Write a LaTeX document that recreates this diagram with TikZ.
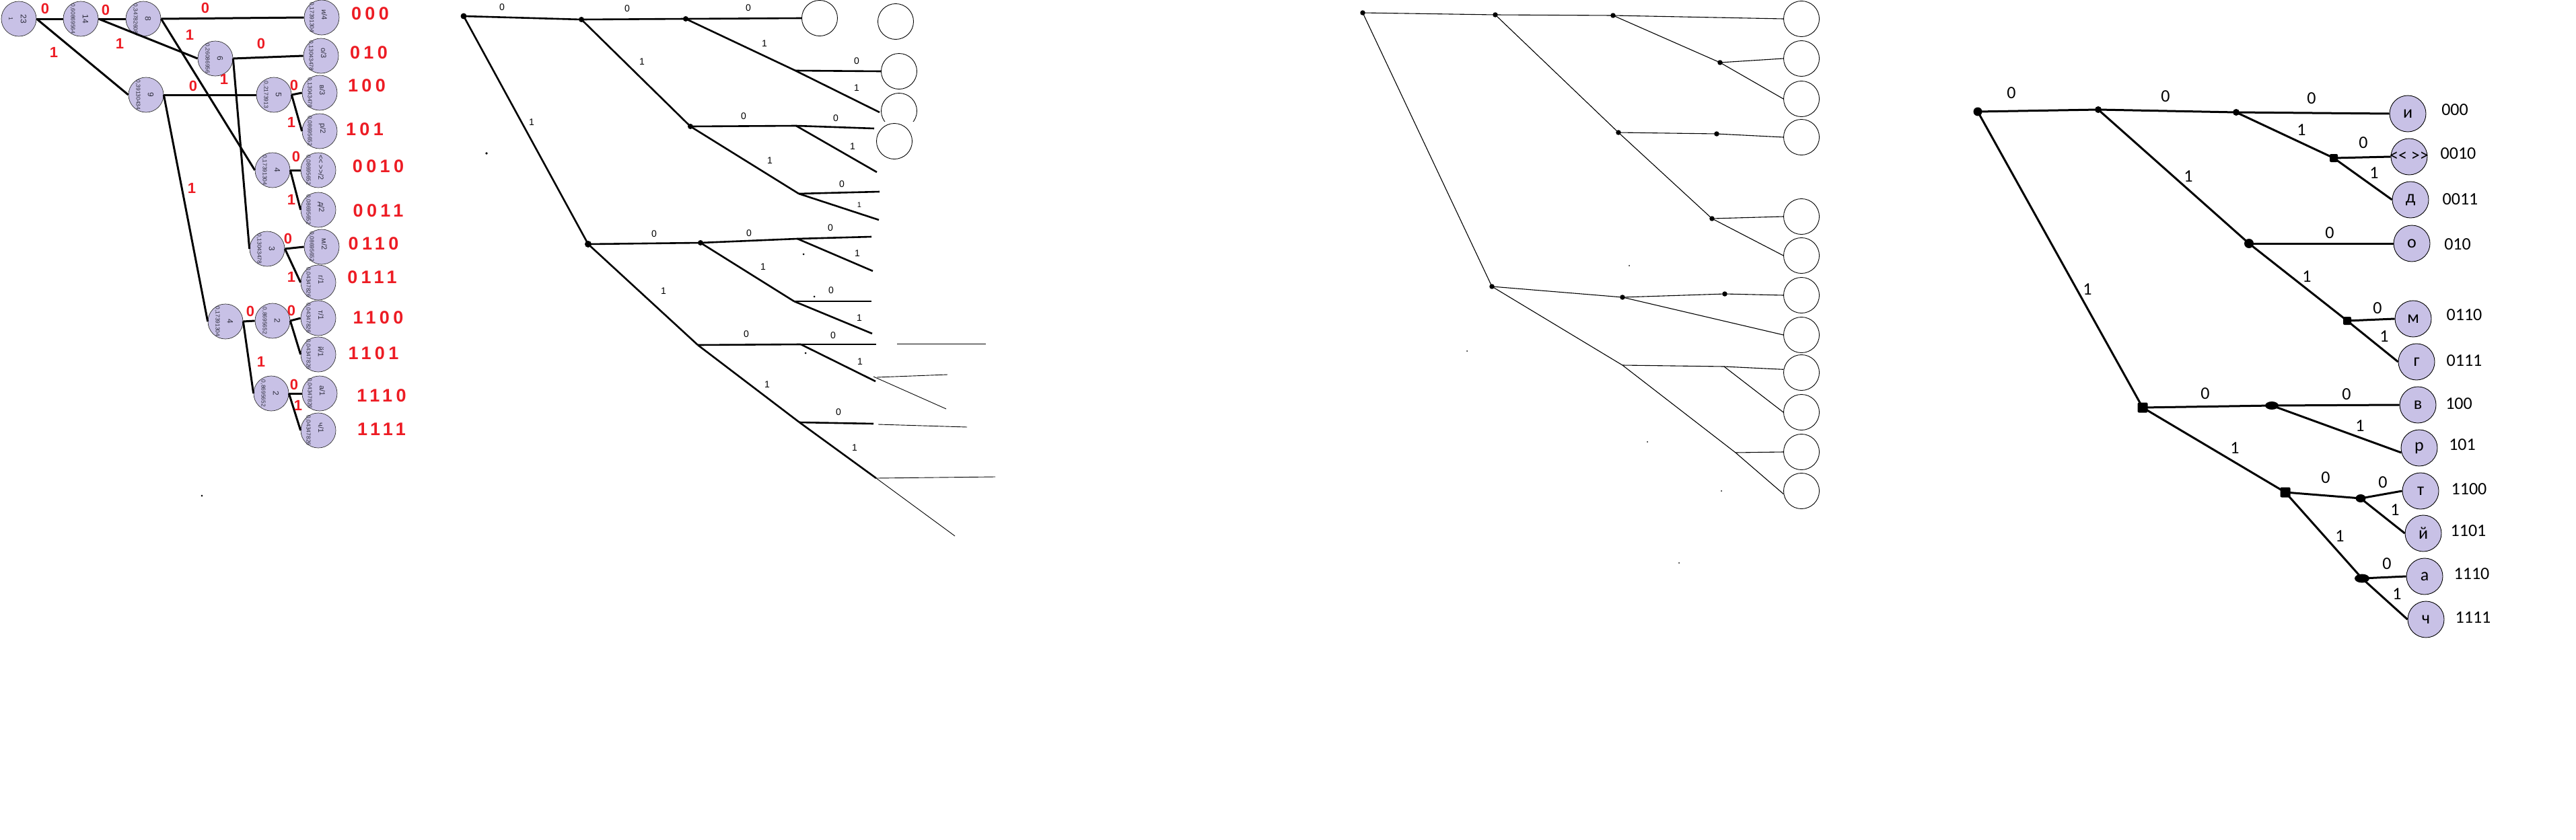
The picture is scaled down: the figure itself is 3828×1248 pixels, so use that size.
\documentclass[tikz,border=0pt]{standalone}
\usepackage{fontspec}
\setmainfont{Liberation Sans}
\newfontfamily\cali{Carlito}
\usetikzlibrary{calc,shapes.geometric}
\definecolor{lav}{RGB}{200,193,230}
\definecolor{hred}{RGB}{237,28,36}
\definecolor{ink}{RGB}{45,45,60}
\newcommand\hufI[5]{%
  \node[t1c] (#1) at (#2,#3) {};
  \node[t1n] (#1n) at ($(#1)+(7,0)$) {#4};
  \node[t1d] (#1d) at ($(#1)+(-12,0)$) {#5};}
\newcommand\hufL[5]{%
  \node[t1c] (#1) at (#2,#3) {};
  \node[t1n,font=\fontsize{11}{11}\selectfont] (#1n) at ($(#1)+(4,-4)$) {#4};
  \node[t1d] (#1d) at ($(#1)+(-15,0)$) {#5};}
\begin{document}
\begin{tikzpicture}[x=1pt,y=-1pt,
  t1c/.style={circle,draw=black!80,line width=0.7pt,fill=lav,minimum size=52pt,inner sep=0pt},
  t1e/.style={line width=3pt},
  t1n/.style={rotate=-90,text=ink,inner sep=0pt,font=\fontsize{12}{12}\selectfont},
  t1d/.style={rotate=-90,text=ink,inner sep=0pt,font=\fontsize{8.5}{8.5}\selectfont},
  rlab/.style={text=hred,inner sep=0pt,font=\fontsize{22}{22}\selectfont\bfseries},
  rcode/.style={text=hred,inner sep=0pt,font=\fontsize{27}{27}\selectfont\bfseries\addfontfeature{LetterSpace=20}},
  t2e/.style={line width=2.6pt},
  t2t/.style={line width=0.9pt},
  t2l/.style={inner sep=0pt,font=\fontsize{14}{14}\selectfont},
  oc/.style={circle,draw,line width=0.9pt,minimum size=53pt,inner sep=0pt},
  t3e/.style={line width=1.1pt},
  t4e/.style={line width=3pt},
  t4c/.style={circle,draw=black,line width=0.9pt,fill=lav,minimum size=54pt,inner sep=0pt,font=\cali\fontsize{26}{26}\selectfont},
  t4l/.style={inner sep=0pt,font=\cali\fontsize{26}{26}\selectfont},
  sdot/.style={circle,fill=black,inner sep=0pt,minimum size=#1},
  sdot/.default=8pt,
  qdot/.style={rectangle,rounded corners=2pt,fill=black,inner sep=0pt,minimum size=#1},
  qdot/.default=12pt,
  odot/.style={ellipse,fill=black,inner sep=0pt},
]
\useasboundingbox (0,0) rectangle (3828,1248);
\fill[white] (0,0) rectangle (3828,1248);

% ================= Tree 1 =================
\hufI{n23}{28}{28}{23}{1}
\hufI{n14}{120}{28}{14}{0,60869564}
\hufI{n8}{213}{28}{8}{0,34782608}
\hufI{n6}{320}{87}{6}{0,26086956}
\hufI{n9}{217}{141}{9}{0,39130434}
\hufI{n5}{407}{141}{5}{0,2173913}
\hufI{n4}{405}{253}{4}{0,17391304}
\hufI{n3}{397}{370}{3}{0,13043478}
\hufI{n4b}{335}{478}{4}{0,17391304}
\hufI{n2a}{405}{477}{2}{0,8695652}
\hufI{n2b}{403}{585}{2}{0,8695652}
\hufL{L1}{478}{26}{и/4}{0,17391304}
\hufL{L2}{477}{83}{о/3}{0,13043478}
\hufL{L3}{475}{138}{в/3}{0,13043478}
\hufL{L4}{475}{195}{р/2}{0,08695652}
\hufL{L5}{473}{253}{<\kern0pt< >\kern0pt>/2}{0,08695652}
\hufL{L6}{473}{312}{д/2}{0,08695652}
\hufL{L7}{478}{367}{м/2}{0,08695652}
\hufL{L8}{473}{420}{г/1}{0,04347826}
\hufL{L9}{473}{473}{т/1}{0,04347826}
\hufL{L10}{473}{527}{й/1}{0,04347826}
\hufL{L11}{475}{585}{а/1}{0,04347826}
\hufL{L12}{473}{640}{ч/1}{0,04347826}

\draw[t1e] (n23.east) -- (n14.west);
\draw[t1e] (n23.east) -- (n9.west);
\draw[t1e] (n14.east) -- (n8.west);
\draw[t1e] (n14.east) -- (n6.west);
\draw[t1e] (n8.east) -- (L1.west);
\draw[t1e] (n8.east) -- (n4.west);
\draw[t1e] (n6.east) -- (L2.west);
\draw[t1e] (n6.east) -- (n3.west);
\draw[t1e] (n9.east) -- (n5.west);
\draw[t1e] (n9.east) -- (n4b.west);
\draw[t1e] (n5.east) -- (L3.west);
\draw[t1e] (n5.east) -- (L4.west);
\draw[t1e] (n4.east) -- (L5.west);
\draw[t1e] (n4.east) -- (L6.west);
\draw[t1e] (n3.east) -- (L7.west);
\draw[t1e] (n3.east) -- (L8.west);
\draw[t1e] (n4b.east) -- (n2a.west);
\draw[t1e] (n4b.east) -- (n2b.west);
\draw[t1e] (n2a.east) -- (L9.west);
\draw[t1e] (n2a.east) -- (L10.west);
\draw[t1e] (n2b.east) -- (L11.west);
\draw[t1e] (n2b.east) -- (L12.west);

% red edge labels
\node[rlab] (r1) at (67,13) {0};
\node[rlab] (r2) at (157,15) {0};
\node[rlab] (r3) at (305,12) {0};
\node[rlab] (r4) at (80,78) {1};
\node[rlab] (r5) at (178,65) {1};
\node[rlab] (r6) at (282,52) {1};
\node[rlab] (r7) at (287,128) {0};
\node[rlab] (r8) at (285,280) {1};
\node[rlab] (r9) at (388,65) {0};
\node[rlab] (r10) at (333,118) {1};
\node[rlab] (r11) at (437,127) {0};
\node[rlab] (r12) at (433,182) {1};
\node[rlab] (r13) at (440,233) {0};
\node[rlab] (r14) at (433,297) {1};
\node[rlab] (r15) at (428,355) {0};
\node[rlab] (r16) at (433,412) {1};
\node[rlab] (r17) at (372,463) {0};
\node[rlab] (r18) at (388,538) {1};
\node[rlab] (r19) at (433,462) {0};
\node[rlab] (r20) at (437,572) {0};
\node[rlab] (r21) at (443,603) {1};
% red codes
\node[rcode] (k1) at (550,20) {000};
\node[rcode] (k2) at (548,78) {010};
\node[rcode] (k3) at (545,127) {100};
\node[rcode] (k4) at (542,192) {101};
\node[rcode] (k5) at (562,247) {0010};
\node[rcode] (k6) at (562,313) {0011};
\node[rcode] (k7) at (555,362) {0110};
\node[rcode] (k8) at (553,412) {0111};
\node[rcode] (k9) at (562,472) {1100};
\node[rcode] (k10) at (555,525) {1101};
\node[rcode] (k11) at (567,588) {1110};
\node[rcode] (k12) at (567,638) {1111};
\fill (300,737) circle[radius=1.5pt];

% ================= Tree 2 =================
\coordinate (A) at (689,24);
\coordinate (B) at (864,29);
\coordinate (C) at (1019,28);
\coordinate (E) at (1026,188);
\coordinate (F) at (1182,105);
\coordinate (G) at (1183,187);
\coordinate (H) at (1187,288);
\coordinate (D) at (874,363);
\coordinate (I) at (1041,361);
\coordinate (J) at (1185,355);
\coordinate (K) at (1180,448);
\coordinate (Lq) at (1037,513);
\coordinate (M) at (1190,512);
\coordinate (N) at (1188,628);
\coordinate (O) at (1302,711);
\coordinate (f1) at (1307,167);
\coordinate (g0) at (1299,191);
\coordinate (g1) at (1303,256);
\coordinate (h0) at (1307,285);
\coordinate (h1) at (1306,327);
\coordinate (j0) at (1295,352);
\coordinate (j1) at (1297,403);
\coordinate (k0) at (1295,448);
\coordinate (k1) at (1296,496);
\coordinate (m0) at (1302,512);
\coordinate (m1) at (1301,567);
\coordinate (p0) at (1298,630);
\node[oc] (c21) at (1218,27) {};
\node[oc] (c22) at (1331,32) {};
\node[oc] (c23) at (1336,106) {};
\node[oc] (c25) at (1329,210) {};
\begin{scope}
\clip (1300,120) rectangle (1372,180);
\draw[line width=0.9pt] (1336,165) circle[radius=26.5pt];
\end{scope}

\draw[t2e] (A) -- (B);
\draw[t2e] (A) -- (D);
\draw[t2e] (B) -- (C);
\draw[t2e] (B) -- (E);
\draw[t2e] (C) -- (c21.west);
\draw[t2e] (C) -- (F);
\draw[t2e] (F) -- (c23.west);
\draw[t2e] (F) -- (f1);
\draw[t2e] (E) -- (G);
\draw[t2e] (G) -- (g0);
\draw[t2e] (G) -- (g1);
\draw[t2e] (E) -- (H);
\draw[t2e] (H) -- (h0);
\draw[t2e] (H) -- (h1);
\draw[t2e] (D) -- (I);
\draw[t2e] (I) -- (J);
\draw[t2e] (J) -- (j0);
\draw[t2e] (J) -- (j1);
\draw[t2e] (I) -- (K);
\draw[t2e] (K) -- (k0);
\draw[t2e] (K) -- (k1);
\draw[t2e] (D) -- (Lq);
\draw[t2e] (Lq) -- (M);
\draw[t2e] (M) -- (m0);
\draw[t2e] (M) -- (m1);
\draw[t2e] (Lq) -- (N);
\draw[t2e] (N) -- (p0);
\draw[t2e] (N) -- (O);
% thin strokes
\coordinate (ta0) at (1333,511); \coordinate (ta1) at (1465,511);
\coordinate (tb0) at (1303,561); \coordinate (tb1) at (1408,557);
\coordinate (tc0) at (1298,560); \coordinate (tc1) at (1406,608);
\coordinate (td0) at (1305,631); \coordinate (td1) at (1437,635);
\coordinate (te1) at (1479,709); \coordinate (tf1) at (1419,797);
\draw[t2t] (ta0) -- (ta1);
\draw[t2t] (tb0) -- (tb1);
\draw[t2t] (tc0) -- (tc1);
\draw[t2t] (td0) -- (td1);
\draw[t2t] (O) -- (te1);
\draw[t2t] (O) -- (tf1);
% dots
\node[sdot=9pt] (Ad) at (A) {};
\node[sdot] (Bd) at (B) {};
\node[sdot] (Cd) at (C) {};
\node[sdot] (Ed) at (E) {};
\node[sdot=10pt] (Dd) at (D) {};
\node[sdot] (Id) at (I) {};
\fill (723,228) circle[radius=1.8pt];
\fill (1194,378) circle[radius=1.5pt];
\fill (1210,441) circle[radius=1.5pt];
\fill (1197,525) circle[radius=1.5pt];
% labels
\node[t2l] (a1) at (746,11) {0};
\node[t2l] (a2) at (790,182) {1};
\node[t2l] (a3) at (932,13) {0};
\node[t2l] (a4) at (954,92) {1};
\node[t2l] (a5) at (1112,12) {0};
\node[t2l] (a6) at (1136,65) {1};
\node[t2l] (a7) at (1273,91) {0};
\node[t2l] (a8) at (1273,131) {1};
\node[t2l] (a9) at (1105,173) {0};
\node[t2l] (a10) at (1242,176) {0};
\node[t2l] (a11) at (1267,218) {1};
\node[t2l] (a12) at (1144,239) {1};
\node[t2l] (a13) at (1251,274) {0};
\node[t2l,font=\fontsize{11}{11}\selectfont] (a14) at (1277,305) {1};
\node[t2l] (a15) at (972,348) {0};
\node[t2l] (a16) at (1113,347) {0};
\node[t2l] (a17) at (1234,339) {0};
\node[t2l] (a18) at (1274,377) {1};
\node[t2l] (a19) at (1134,397) {1};
\node[t2l] (a20) at (1235,432) {0};
\node[t2l] (a21) at (1277,473) {1};
\node[t2l] (a22) at (986,433) {1};
\node[t2l] (a23) at (1109,497) {0};
\node[t2l] (a24) at (1238,499) {0};
\node[t2l] (a25) at (1278,538) {1};
\node[t2l] (a26) at (1140,572) {1};
\node[t2l] (a27) at (1246,613) {0};
\node[t2l] (a28) at (1270,666) {1};

% ================= Tree 3 =================
\coordinate (R3) at (2025,19);
\coordinate (S3) at (2222,22);
\coordinate (T3) at (2397,23);
\coordinate (W3) at (2556,93);
\coordinate (V3) at (2405,197);
\coordinate (X3) at (2551,199);
\coordinate (Y3) at (2544,325);
\coordinate (U3) at (2217,426);
\coordinate (Z3) at (2411,442);
\coordinate (Q3) at (2563,437);
\coordinate (P3) at (2411,543);
\coordinate (PP3) at (2562,545);
\coordinate (PQ3) at (2579,673);
\foreach \i/\yy in {1/28,2/87,3/147,4/204,5/322,6/380,7/439,8/498,9/554,10/613,11/672,12/730}{
  \node[oc] (d\i) at (2677,\yy) {};
}
\draw[t3e] (R3) -- (S3);
\draw[t3e] (R3) -- (U3);
\draw[t3e] (S3) -- (T3);
\draw[t3e] (S3) -- (V3);
\draw[t3e] (T3) -- (d1.west);
\draw[t3e] (T3) -- (W3);
\draw[t3e] (W3) -- (d2.west);
\draw[t3e] (W3) -- (d3.west);
\draw[t3e] (V3) -- (X3);
\draw[t3e] (X3) -- (d4.west);
\draw[t3e] (V3) -- (Y3);
\draw[t3e] (Y3) -- (d5.west);
\draw[t3e] (Y3) -- (d6.west);
\draw[t3e] (U3) -- (Z3);
\draw[t3e] (Z3) -- (Q3);
\draw[t3e] (Q3) -- (d7.west);
\draw[t3e] (Z3) -- (d8.west);
\draw[t3e] (U3) -- (P3);
\draw[t3e] (P3) -- (PP3);
\draw[t3e] (PP3) -- (d9.170);
\draw[t3e] (PP3) -- (d10.west);
\draw[t3e] (P3) -- (PQ3);
\draw[t3e] (PQ3) -- (d11.west);
\draw[t3e] (PQ3) -- (d12.190);
\foreach \p in {R3,S3,T3,W3,V3,X3,Y3,U3,Z3,Q3}{
  \node[sdot=7.5pt] (\p d) at (\p) {};
}
\fill (2421,395) circle[radius=1pt];
\fill (2448,657) circle[radius=1pt];
\fill (2558,730) circle[radius=1pt];
\fill (2495,837) circle[radius=1pt];
\fill (2180,522) circle[radius=1pt];

% ================= Tree 4 =================
\coordinate (R4) at (2939,166);
\coordinate (B4) at (3118,163);
\coordinate (C4) at (3323,167);
\coordinate (D4) at (3342,362);
\coordinate (E4) at (3184,606);
\coordinate (F4) at (3468,235);
\coordinate (G4) at (3488,477);
\coordinate (H4) at (3376,603);
\coordinate (I4) at (3396,732);
\coordinate (J4) at (3508,741);
\coordinate (K4) at (3510,860);
\node[t4c] (ci) at (3578,169) {и};
\node[t4c] (cq) at (3580,233) {};
\node[t4c] (cd) at (3582,297) {д};
\node[t4c] (co) at (3584,362) {о};
\node[t4c] (cm) at (3586,474) {м};
\node[t4c] (cg) at (3591,538) {г};
\node[t4c] (cv) at (3593,602) {в};
\node[t4c] (cr) at (3595,666) {р};
\node[t4c] (ct) at (3597,730) {т};
\node[t4c] (cy) at (3601,793) {й};
\node[t4c] (ca) at (3603,857) {а};
\node[t4c] (cc) at (3605,921) {ч};
\node[t4l] (cqt) at (cq) {<\kern0pt< >\kern0pt>};

\draw[t4e] (R4) -- (B4);
\draw[t4e] (R4) -- (E4);
\draw[t4e] (B4) -- (C4);
\draw[t4e] (B4) -- (D4);
\draw[t4e] (C4) -- (ci.west);
\draw[t4e] (C4) -- (F4);
\draw[t4e] (F4) -- (cq.west);
\draw[t4e] (F4) -- (cd.west);
\draw[t4e] (D4) -- (co.west);
\draw[t4e] (D4) -- (G4);
\draw[t4e] (G4) -- (cm.west);
\draw[t4e] (G4) -- (cg.west);
\draw[t4e] (E4) -- (H4);
\draw[t4e] (E4) -- (I4);
\draw[t4e] (H4) -- (cv.west);
\draw[t4e] (H4) -- (cr.195);
\draw[t4e] (I4) -- (J4);
\draw[t4e] (I4) -- (K4);
\draw[t4e] (J4) -- (ct.west);
\draw[t4e] (J4) -- (cy.west);
\draw[t4e] (K4) -- (ca.west);
\draw[t4e] (K4) -- (cc.west);

\node[sdot=13pt] (R4d) at (R4) {};
\node[sdot=10pt] (B4d) at (B4) {};
\node[sdot=10pt] (C4d) at (C4) {};
\node[sdot=14pt] (D4d) at (D4) {};
\node[qdot=12pt] (F4d) at (F4) {};
\node[qdot=12pt] (G4d) at (G4) {};
\node[qdot=15pt] (E4d) at (E4) {};
\node[qdot=15pt] (I4d) at (I4) {};
\node[odot,minimum width=20pt,minimum height=12pt] (H4d) at (H4) {};
\node[odot,minimum width=15pt,minimum height=12pt] (J4d) at (J4) {};
\node[odot,minimum width=22pt,minimum height=13pt] (K4d) at (K4) {};

\node[t4l] (b1) at (2989,138) {0};
\node[t4l] (b2) at (3218,143) {0};
\node[t4l] (b3) at (3252,262) {1};
\node[t4l] (b4) at (3102,430) {1};
\node[t4l] (b5) at (3435,146) {0};
\node[t4l] (b6) at (3420,193) {1};
\node[t4l] (b7) at (3512,212) {0};
\node[t4l] (b8) at (3528,257) {1};
\node[t4l] (b9) at (3462,346) {0};
\node[t4l] (b10) at (3428,411) {1};
\node[t4l] (b11) at (3533,458) {0};
\node[t4l] (b12) at (3543,500) {1};
\node[t4l] (b13) at (3277,585) {0};
\node[t4l] (b14) at (3321,666) {1};
\node[t4l] (b15) at (3487,586) {0};
\node[t4l] (b16) at (3507,633) {1};
\node[t4l] (b17) at (3456,710) {0};
\node[t4l] (b18) at (3541,717) {0};
\node[t4l] (b19) at (3559,758) {1};
\node[t4l] (b20) at (3477,797) {1};
\node[t4l] (b21) at (3547,838) {0};
\node[t4l] (b22) at (3562,883) {1};

\node[t4l] (e1) at (3648,163) {000};
\node[t4l] (e2) at (3653,228) {0010};
\node[t4l] (e3) at (3656,296) {0011};
\node[t4l] (e4) at (3652,363) {010};
\node[t4l] (e5) at (3662,468) {0110};
\node[t4l] (e6) at (3662,536) {0111};
\node[t4l] (e7) at (3654,600) {100};
\node[t4l] (e8) at (3659,661) {101};
\node[t4l] (e9) at (3669,727) {1100};
\node[t4l] (e10) at (3668,789) {1101};
\node[t4l] (e11) at (3673,853) {1110};
\node[t4l] (e12) at (3675,918) {1111};
\end{tikzpicture}
\end{document}
